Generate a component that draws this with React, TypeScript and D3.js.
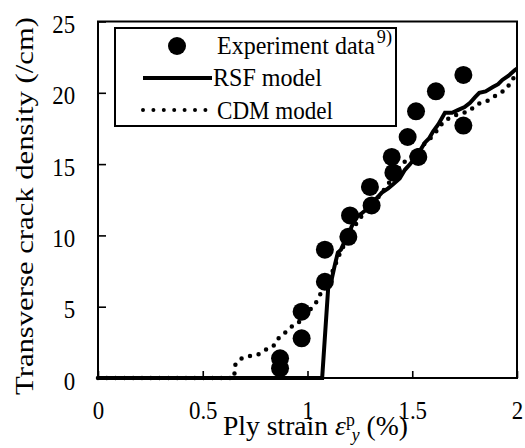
import * as d3 from "d3";
import { useRef, useEffect } from "react";

// experiment data (ply strain %, crack density /cm)
const expStrain = [0.869, 0.869, 0.972, 0.972, 1.083, 1.083, 1.195, 1.203, 1.306, 1.298, 1.41, 1.402, 1.478, 1.529, 1.518, 1.613, 1.744, 1.744];
const expDensity = [0.68, 1.38, 2.78, 4.65, 6.75, 9.0, 9.9, 11.4, 12.1, 13.4, 14.4, 15.5, 16.9, 15.5, 18.7, 20.1, 17.7, 21.25];

// RSF model curve
const rsfStrain = [0, 1.07, 1.1, 1.115, 1.13, 1.145, 1.16, 1.175, 1.19, 1.21, 1.235, 1.255, 1.28, 1.3, 1.33, 1.355, 1.385, 1.41, 1.44, 1.465, 1.49, 1.51, 1.535, 1.56, 1.58, 1.6, 1.625, 1.656, 1.69, 1.72, 1.75, 1.776, 1.8, 1.82, 1.85, 1.885, 1.91, 1.93, 1.96, 1.99, 2.0];
const rsfDensity = [0, 0, 6.6, 6.9, 7.9, 8.8, 9.0, 9.5, 9.7, 10.6, 11.3, 11.5, 11.8, 12.2, 12.6, 13.0, 13.3, 13.6, 14.0, 14.6, 15.0, 15.4, 15.9, 16.5, 16.8, 17.3, 17.8, 18.6, 18.6, 18.8, 19.0, 19.3, 19.7, 20.0, 20.1, 20.4, 20.6, 20.9, 21.2, 21.6, 21.7];

// CDM model curve
const cdmStrain = [0, 0.65, 0.654, 0.686, 0.726, 0.765, 0.797, 0.837, 0.861, 0.888, 0.913, 0.936, 0.964, 0.999, 1.036, 1.056, 1.08, 1.1, 1.123, 1.14, 1.155, 1.2, 1.25, 1.3, 1.35, 1.4, 1.45, 1.5, 1.55, 1.6, 1.65, 1.7, 1.77, 1.81, 1.855, 1.919, 1.95, 1.975, 2.0];
const cdmDensity = [0, 0, 0.9, 1.38, 1.54, 1.66, 1.96, 2.24, 2.78, 3.13, 3.41, 3.79, 3.95, 4.58, 5.17, 5.7, 6.5, 7.0, 7.57, 8.2, 8.74, 10.1, 11.2, 12.0, 12.9, 13.9, 15.0, 15.6, 16.3, 17.0, 18.0, 18.4, 18.7, 19.2, 19.4, 20.0, 20.25, 20.9, 21.3];

const xTicks = [0, 0.5, 1, 1.5, 2];
const xTickLabels = ["0", "0.5", "1", "1.5", "2"];
const yTicks = [0, 5, 10, 15, 20, 25];

const FONT = "Liberation Serif, Times New Roman, Times, DejaVu Serif, serif";

export default function App() {
  const ref = useRef<SVGSVGElement>(null);

  useEffect(() => {
    const width = 525;
    const height = 448;
    const svg = d3.select(ref.current);
    svg.selectAll("*").remove();
    svg.attr("width", width).attr("height", height).attr("font-family", FONT);

    svg.append("rect").attr("width", width).attr("height", height).attr("fill", "#fff");

    const x = d3.scaleLinear().domain([0, 2]).range([98, 517]);
    const y = d3.scaleLinear().domain([0, 25]).range([378, 21.5]);

    // axes
    const xAxis = svg.append("g")
      .attr("transform", `translate(0,${y(0)})`)
      .call(d3.axisBottom(x).tickValues(xTicks).tickSize(-7).tickFormat((d, i) => xTickLabels[i]));
    const yAxis = svg.append("g")
      .attr("transform", `translate(${x(0)},0)`)
      .call(d3.axisLeft(y).tickValues(yTicks).tickSize(-8));

    [xAxis, yAxis].forEach(a => {
      a.attr("font-family", FONT).attr("font-size", 26);
      a.select(".domain").remove();
      a.selectAll("line").attr("stroke", "#000").attr("stroke-width", 1.6);
      a.selectAll("text")
        .attr("fill", "#000")
        .attr("dy", null)
        .attr("transform", "scale(0.88,1)");
    });
    xAxis.selectAll("text").attr("y", 41);
    yAxis.selectAll("text").attr("x", -26).attr("y", 11);

    // RSF model
    const line = d3.line<[number, number]>().x(d => x(d[0])).y(d => y(d[1]));
    svg.append("path")
      .attr("d", line(rsfStrain.map((s, i) => [s, rsfDensity[i]])))
      .attr("fill", "none")
      .attr("stroke", "#000")
      .attr("stroke-width", 4);

    // CDM model
    svg.append("path")
      .attr("d", line(cdmStrain.map((s, i) => [s, cdmDensity[i]])))
      .attr("fill", "none")
      .attr("stroke", "#000")
      .attr("stroke-width", 4.5)
      .attr("stroke-linecap", "round")
      .attr("stroke-dasharray", "0 8.8");

    // experiment points
    svg.append("g").selectAll("circle")
      .data(expStrain.map((s, i) => [s, expDensity[i]]))
      .enter()
      .append("circle")
      .attr("cx", d => x(d[0]))
      .attr("cy", d => y(d[1]))
      .attr("r", 9)
      .attr("fill", "#000");

    // frame
    svg.append("rect")
      .attr("x", x(0)).attr("y", y(25))
      .attr("width", x(2) - x(0)).attr("height", y(0) - y(25))
      .attr("fill", "none").attr("stroke", "#000").attr("stroke-width", 2);

    // legend
    const lg = svg.append("g");
    lg.append("rect")
      .attr("x", 115).attr("y", 28).attr("width", 281).attr("height", 98)
      .attr("fill", "#fff").attr("stroke", "#000").attr("stroke-width", 2);
    lg.append("circle").attr("cx", 177).attr("cy", 46).attr("r", 9).attr("fill", "#000");
    lg.append("line").attr("x1", 143).attr("x2", 212).attr("y1", 78).attr("y2", 78)
      .attr("stroke", "#000").attr("stroke-width", 4);
    lg.append("line").attr("x1", 143).attr("x2", 206).attr("y1", 110).attr("y2", 110)
      .attr("stroke", "#000").attr("stroke-width", 4).attr("stroke-linecap", "round")
      .attr("stroke-dasharray", "0 10.4");

    const addText = (g, tx, ty, size, len, extra = {}) => {
      const t = g.append("text")
        .attr("x", tx).attr("y", ty)
        .attr("fill", "#000")
        .attr("font-family", FONT)
        .attr("font-size", size);
      if (len) t.attr("textLength", len).attr("lengthAdjust", "spacingAndGlyphs");
      Object.entries(extra).forEach(([k, v]) => t.attr(k, v));
      return t;
    };

    const exp = addText(lg, 217, 54, 25, 175);
    exp.append("tspan").text("Experiment data");
    exp.append("tspan").attr("font-size", 19).attr("dy", -11).attr("dx", 2).text("9)");
    addText(lg, 213, 86, 25, 109).text("RSF model");
    addText(lg, 217, 119, 25, 116).text("CDM model");

    // x axis title
    const xt = addText(svg, 223, 435, 28, 185);
    xt.append("tspan").text("Ply strain ");
    xt.append("tspan").attr("font-style", "italic").text("ε");
    xt.append("tspan").attr("font-size", 18).attr("dy", -9).text("p");
    xt.append("tspan").attr("font-size", 18).attr("font-style", "italic").attr("dx", -3).attr("dy", 15).text("y");
    xt.append("tspan").attr("dy", -6).text(" (%)");

    // y axis title
    addText(svg, 0, 0, 26, 378, {
      transform: "translate(33,206) rotate(-90)",
      "text-anchor": "middle",
    }).text("Transverse crack density  (/cm)");
  }, []);

  return <svg ref={ref} style={{ position: "absolute", left: 0, top: 0 }}></svg>;
}
